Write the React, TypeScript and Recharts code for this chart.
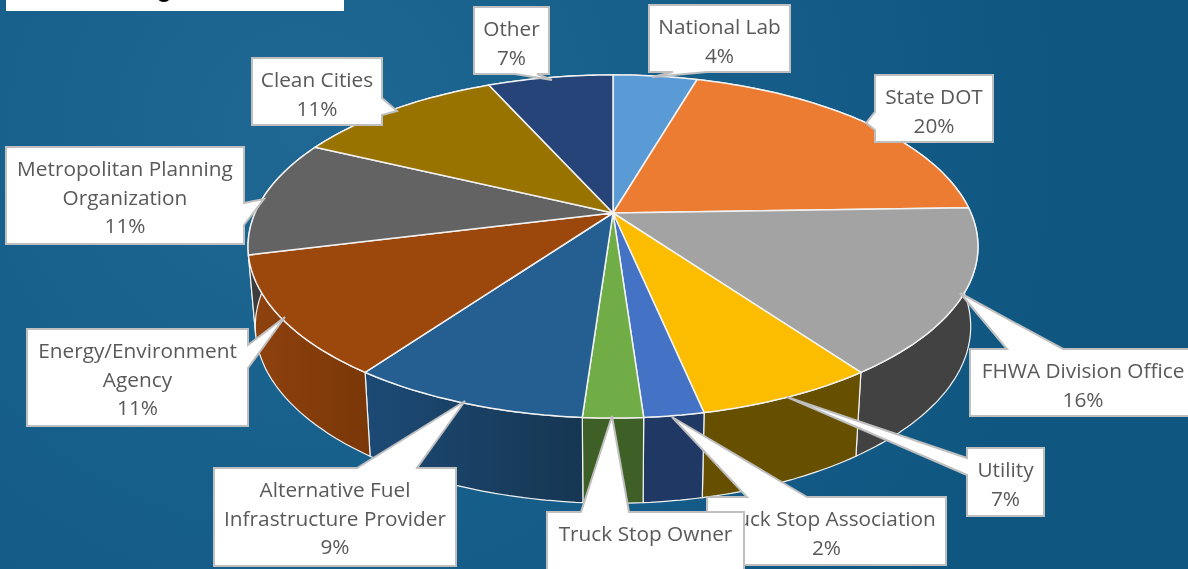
import { Pie, PieChart } from "recharts";

const names = [
  "National Lab",
  "State DOT",
  "FHWA Division Office",
  "Utility",
  "Truck Stop Association",
  "Truck Stop Owner",
  "Alternative Fuel Infrastructure Provider",
  "Energy/Environment Agency",
  "Metropolitan Planning Organization",
  "Clean Cities",
  "Other",
];
const shares = [4.5, 20, 15.6, 6.6, 2.2, 2.2, 8.8, 11.2, 11, 11.2, 6.7];
const labelLines = [
  ["National Lab", "4%"],
  ["State DOT", "20%"],
  ["FHWA Division Office", "16%"],
  ["Utility", "7%"],
  ["Truck Stop Association", "2%"],
  ["Truck Stop Owner"],
  ["Alternative Fuel", "Infrastructure Provider", "9%"],
  ["Energy/Environment", "Agency", "11%"],
  ["Metropolitan Planning", "Organization", "11%"],
  ["Clean Cities", "11%"],
  ["Other", "7%"],
];
const topColors = [
  "#5b9bd5", "#ec7c32", "#a3a3a3", "#fcbd00", "#4472c4", "#70ad47",
  "#255e91", "#9c470c", "#636363", "#997300", "#264478",
];
const wallColors = [
  "#37618a", "#8e4b1d", "#424242", "#665000", "#203864", "#3e5f26",
  "url(#wallNavy)", "url(#wallBrown)", "#3c3c3c", "#5c4500", "#172948",
];

const tableData = names.map((name, i) => ({ name, value: shares[i] }));

// callout boxes: x, y, w, h, side the pointer leaves from, base of the pointer, tip
const boxes = [
  { x: 649, y: 5, w: 141, h: 67, side: "bottom", a: 673, b: 707, tip: [652, 77] },
  { x: 875, y: 75, w: 118, h: 67, side: "left", a: 112, b: 130, tip: [866, 123] },
  { x: 970, y: 349, w: 226, h: 67, side: "top", a: 1007, b: 1063, tip: [960, 293] },
  { x: 967, y: 448, w: 77, h: 68, side: "left", a: 458, b: 475, tip: [787, 397] },
  { x: 707, y: 497, w: 239, h: 68, side: "top", a: 747, b: 807, tip: [672, 417] },
  { x: 547, y: 512, w: 197, h: 68, side: "top", a: 581, b: 629, tip: [612, 416] },
  { x: 214, y: 468, w: 242, h: 98, side: "top", a: 357, b: 417, tip: [465, 401] },
  { x: 27, y: 329, w: 221, h: 97, side: "right", a: 345, b: 368, tip: [285, 317] },
  { x: 6, y: 147, w: 238, h: 97, side: "right", a: 203, b: 225, tip: [264, 199] },
  { x: 252, y: 58, w: 130, h: 67, side: "right", a: 98, b: 115, tip: [397, 111] },
  { x: 474, y: 7, w: 75, h: 67, side: "bottom", a: 515, b: 537, tip: [552, 80] },
];

const RAD = Math.PI / 180;
const TILT = 0.195;

// the perspective of the top face and of the bottom rim, as ratios of the radius
const projectTop = (angle: number, cx: number, cy: number, r: number) => {
  const t = (90 - angle) * RAD;
  const w = 1 + TILT * Math.cos(t);
  return [cx + (r * Math.sin(t)) / w, cy - (0.461 * r * Math.cos(t)) / w];
};
const projectBottom = (angle: number, cx: number, cy: number, r: number) => {
  const t = (90 - angle) * RAD;
  const w = 1 + TILT * Math.cos(t);
  return [cx + (0.98 * r * Math.sin(t)) / w, cy + 79 - (0.475 * r * Math.cos(t)) / w];
};

const arcAngles = (start: number, end: number) => {
  const steps = Math.max(2, Math.ceil(Math.abs(end - start)));
  return Array.from({ length: steps + 1 }, (_, i) => start + ((end - start) * i) / steps);
};

const toPath = (pts: number[][]) =>
  pts.map((p, i) => `${i ? "L" : "M"}${p[0].toFixed(1)},${p[1].toFixed(1)}`).join(" ") + " Z";

const TopSlice = (props: any) => {
  const { cx, cy, outerRadius, startAngle, endAngle, fill } = props;
  const arc = arcAngles(startAngle, endAngle).map((a) => projectTop(a, cx, cy, outerRadius));
  return <path d={toPath([[cx, cy], ...arc])} fill={fill} stroke="#f2f2f2" strokeWidth={1.5} strokeLinejoin="round" />;
};

const WallSlice = (props: any) => {
  const { cx, cy, outerRadius, startAngle, endAngle, fill } = props;
  const angles = arcAngles(startAngle, endAngle);
  const upper = angles.map((a) => projectTop(a, cx, cy, outerRadius));
  const lower = angles.map((a) => projectBottom(a, cx, cy, outerRadius)).reverse();
  return <path d={toPath([...upper, ...lower])} fill={fill} stroke="#f2f2f2" strokeWidth={1.2} strokeLinejoin="round" />;
};

const calloutPath = (box: (typeof boxes)[number]) => {
  const { x, y, w, h, side, a, b, tip } = box;
  const pts: number[][] = [[x, y]];
  if (side === "top") pts.push([a, y], tip, [b, y]);
  pts.push([x + w, y]);
  if (side === "right") pts.push([x + w, a], tip, [x + w, b]);
  pts.push([x + w, y + h]);
  if (side === "bottom") pts.push([b, y + h], tip, [a, y + h]);
  pts.push([x, y + h]);
  if (side === "left") pts.push([x, b], tip, [x, a]);
  return toPath(pts);
};

const renderCallout = (props: any) => {
  const box = boxes[props.index];
  const center = box.x + box.w / 2;
  return (
    <g key={props.index}>
      <path d={calloutPath(box)} fill="#ffffff" stroke="#bfbfbf" strokeWidth={2} strokeLinejoin="miter" />
      <text textAnchor="middle" fontFamily="'Open Sans', sans-serif" fontSize={20.8} fill="#595959">
        {labelLines[props.index].map((line, i) => (
          <tspan key={line} x={center} y={box.y + 29 + i * 28.7}>
            {line}
          </tspan>
        ))}
      </text>
    </g>
  );
};

export default function App() {
  return (
    <div
      style={{
        position: "fixed",
        left: 0,
        top: 0,
        width: 1188,
        height: 569,
        overflow: "hidden",
        background: "radial-gradient(circle 760px at 300px 130px, #1f6893 0%, #18608c 45%, #0f5681 100%)",
      }}
    >
      <div style={{ position: "absolute", left: 6, top: 0, width: 338, height: 11, background: "#ffffff" }} />
      <PieChart width={1188} height={569} margin={{ top: 0, right: 0, bottom: 0, left: 0 }}>
        <defs>
          <linearGradient id="wallNavy" x1="0" y1="0" x2="1" y2="0">
            <stop offset="0%" stopColor="#1c4a75" />
            <stop offset="100%" stopColor="#163652" />
          </linearGradient>
          <linearGradient id="wallBrown" x1="0" y1="0" x2="1" y2="0">
            <stop offset="0%" stopColor="#8f420e" />
            <stop offset="100%" stopColor="#7a3708" />
          </linearGradient>
        </defs>
        {/* only the tail of the cut-off title shows at the top edge */}
        <text x={156} y={-4} fontFamily="'Liberation Sans', sans-serif" fontSize={30} fill="#000000">
          g
        </text>
        <Pie
          data={tableData.map((d, i) => ({ ...d, fill: wallColors[i] }))}
          dataKey="value"
          nameKey="name"
          cx={613}
          cy={213}
          outerRadius={358}
          startAngle={90}
          endAngle={-270}
          shape={WallSlice}
          isAnimationActive={false}
        />
        <Pie
          data={tableData.map((d, i) => ({ ...d, fill: topColors[i] }))}
          dataKey="value"
          nameKey="name"
          cx={613}
          cy={213}
          outerRadius={358}
          startAngle={90}
          endAngle={-270}
          shape={TopSlice}
          label={renderCallout}
          labelLine={false}
          isAnimationActive={false}
        />
      </PieChart>
    </div>
  );
}
